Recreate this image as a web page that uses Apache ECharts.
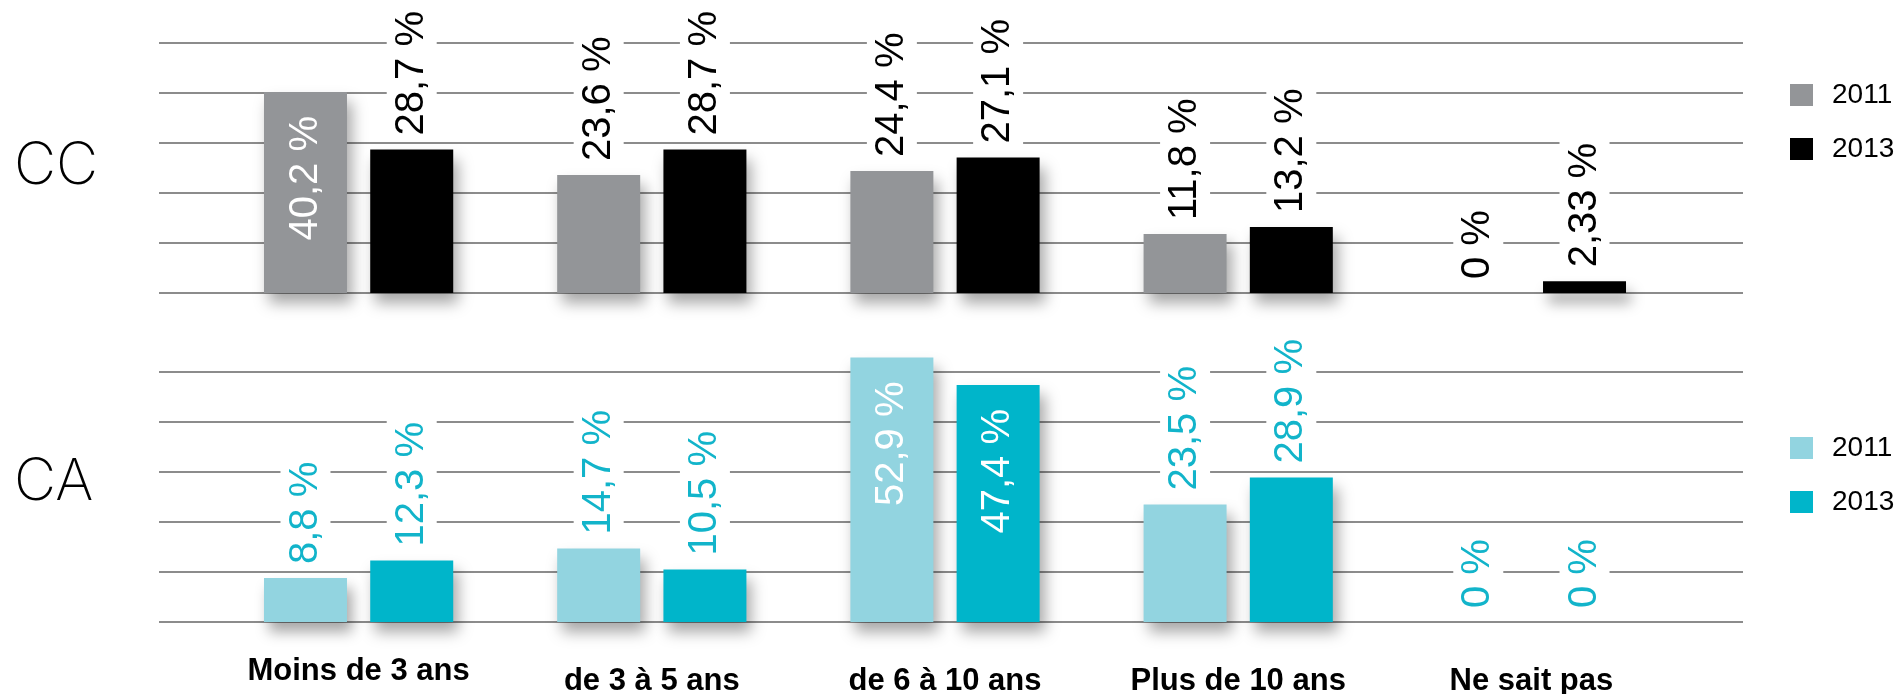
<!DOCTYPE html>
<html>
<head>
<meta charset="utf-8">
<title>Ancienneté CC / CA</title>
<script src="https://cdn.jsdelivr.net/npm/echarts@6/dist/echarts.min.js"></script>
<style>
  html, body { margin: 0; padding: 0; background: #fff; }
  #chart { width: 1903px; height: 694px; }
</style>
</head>
<body>
<div id="chart"></div>
<script>
  // données
  var categories = ['Moins de 3 ans', 'de 3 à 5 ans', 'de 6 à 10 ans', 'Plus de 10 ans', 'Ne sait pas']
  var years = ['2011', '2013']
  var cc2011 = [40.2, 23.6, 24.4, 11.8, 0]
  var cc2013 = [28.7, 28.7, 27.1, 13.2, 2.33]
  var ca2011 = [8.8, 14.7, 52.9, 23.5, 0]
  var ca2013 = [12.3, 10.5, 47.4, 28.9, 0]

  var FONT = 'Liberation Sans, Arial, sans-serif'
  var GRID_COLOR = '#8c8c8c'

  var chart = echarts.init(document.getElementById('chart'))

  function fmt(p) {
    return String(p.value).replace('.', ',') + ' %'
  }

  // les grandes valeurs ont leur étiquette à l'intérieur de la barre
  function barData(values) {
    return values.map(function (v) {
      if (v > 35) {
        return {
          value: v,
          label: {
            position: 'insideTop',
            align: 'right',
            distance: 24,
            color: '#fff',
            backgroundColor: 'transparent',
            padding: 0
          }
        }
      }
      return v
    })
  }

  function outsideLabel(color) {
    return {
      show: true,
      position: 'top',
      rotate: 90,
      align: 'left',
      verticalAlign: 'middle',
      distance: 10,
      fontFamily: FONT,
      fontSize: 40,
      color: color,
      backgroundColor: '#fff',
      padding: [5, 4],
      formatter: fmt
    }
  }

  function barSeries(name, idx, values, color, labelColor) {
    return {
      name: name,
      type: 'bar',
      xAxisIndex: idx,
      yAxisIndex: idx,
      data: barData(values),
      barWidth: 83,
      barGap: '28%',
      clip: false,
      itemStyle: {
        color: color,
        shadowColor: 'rgba(0,0,0,0.35)',
        shadowBlur: 14,
        shadowOffsetX: 5,
        shadowOffsetY: 10
      },
      label: outsideLabel(labelColor)
    }
  }

  function lineAxis(idx) {
    return {
      gridIndex: idx, type: 'value', min: 0, max: 50, interval: 10,
      axisLine: { show: false }, axisTick: { show: false }, axisLabel: { show: false },
      splitLine: { lineStyle: { color: GRID_COLOR, width: 2 } }
    }
  }

  function hiddenY(idx) {
    return { gridIndex: idx, type: 'value', min: 0, max: 50, show: false, splitLine: { show: false } }
  }

  function legend(top, names) {
    return {
      orient: 'vertical',
      left: 1785,
      top: top,
      data: names,
      itemWidth: 23,
      itemHeight: 22,
      itemGap: 26,
      icon: 'rect',
      selectedMode: false,
      formatter: function (n) { return n.slice(3) },
      textStyle: { fontFamily: FONT, fontSize: 28, color: '#000', padding: [0, 0, 0, 14] }
    }
  }

  function grid(left, right, top) {
    return { left: left, right: right, top: top, height: 250, outerBoundsMode: 'none', containLabel: false }
  }

  chart.setOption({
    animation: false,
    grid: [
      grid(159, 160, 43),
      grid(212, 225, 43),
      grid(159, 160, 372),
      grid(212, 225, 372)
    ],
    xAxis: [
      { gridIndex: 0, type: 'value', show: false },
      { gridIndex: 1, type: 'category', data: categories, show: false },
      { gridIndex: 2, type: 'value', show: false },
      {
        gridIndex: 3, type: 'category',
        data: categories.map(function (c, i) {
          return i === 0 ? c : { value: c, textStyle: { padding: [10, 0, 0, 0] } }
        }),
        axisLine: { show: false }, axisTick: { show: false },
        axisLabel: { margin: 34, fontFamily: FONT, fontSize: 31, fontWeight: 'bold', color: '#000' }
      }
    ],
    yAxis: [lineAxis(0), hiddenY(1), lineAxis(2), hiddenY(3)],
    legend: [
      legend(76, ['CC ' + years[0], 'CC ' + years[1]]),
      legend(429, ['CA ' + years[0], 'CA ' + years[1]])
    ],
    graphic: [
      { type: 'text', x: 14, y: 167, style: { text: 'CC', fontFamily: 'Inter', fontWeight: 200, fontSize: 58, fill: '#000', verticalAlign: 'middle' } },
      { type: 'text', x: 14, y: 483, style: { text: 'CA', fontFamily: 'Inter', fontWeight: 200, fontSize: 58, fill: '#000', verticalAlign: 'middle' } }
    ],
    series: [
      barSeries('CC ' + years[0], 1, cc2011, '#939598', '#000'),
      barSeries('CC ' + years[1], 1, cc2013, '#000000', '#000'),
      barSeries('CA ' + years[0], 3, ca2011, '#92d4e0', '#12b4ca'),
      barSeries('CA ' + years[1], 3, ca2013, '#00b5ca', '#12b4ca')
    ]
  })
</script>
</body>
</html>
